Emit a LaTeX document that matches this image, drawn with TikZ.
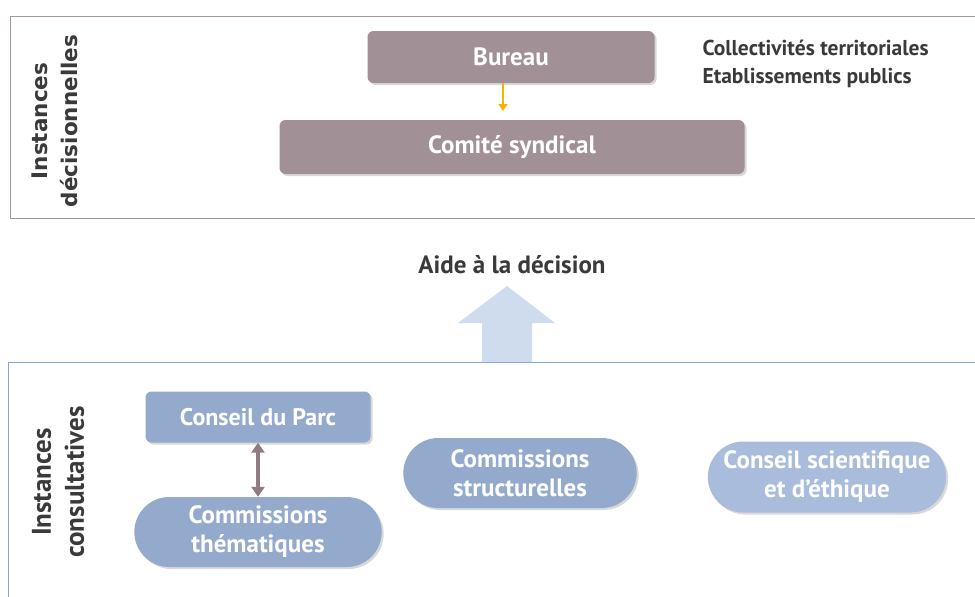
\documentclass[tikz,border=0pt]{standalone}
\usepackage{fontspec}
\setmainfont{PT Sans}
\newfontfamily\widefont{DejaVu Sans}
\usepackage{xcolor}
\usetikzlibrary{positioning,calc,arrows.meta,shapes.misc,shadows}

\definecolor{mauve}{HTML}{A19197}
\definecolor{mauveline}{HTML}{A3969C}
\definecolor{darrow}{HTML}{8E7B84}
\definecolor{bluebox}{HTML}{94AACD}
\definecolor{lightbox}{HTML}{A9BCDC}
\definecolor{blueline}{HTML}{86A5D6}
\definecolor{bigarrow}{HTML}{CFDCEE}
\definecolor{gold}{HTML}{F4B400}
\definecolor{txt}{HTML}{3A3A3A}

\begin{document}
\begin{tikzpicture}[x=1pt,y=-1pt,
                    every node/.style={font=\bfseries},
                    decbox/.style={rectangle,rounded corners=6pt,fill=mauve,text=white,
                                   drop shadow={opacity=0.3,shadow xshift=2pt,shadow yshift=-2pt},
                                   font=\bfseries\fontsize{25}{28}\selectfont},
                    conbox/.style={rectangle,rounded corners=6pt,fill=bluebox,text=white,
                                   drop shadow={opacity=0.3,shadow xshift=2pt,shadow yshift=-2pt},
                                   font=\bfseries\fontsize{24}{28}\selectfont},
                    pill/.style={rounded rectangle,fill=bluebox,text=white,align=center,
                                 drop shadow={opacity=0.3,shadow xshift=2pt,shadow yshift=-2pt},
                                 font=\bfseries\fontsize{25}{29}\selectfont},
                    sidelabel/.style={rotate=90,align=center,text=txt,
                                      font=\bfseries\fontsize{27}{33}\selectfont}]
    \clip (0,0) rectangle (975,597);
    \fill[white] (0,0) rectangle (975,597);

    %Frames
    \draw[mauveline] (10,16) rectangle (990,218);
    \draw[blueline,thick] (8,362) rectangle (990,610);

    %Nodes
    \node[decbox,minimum width=287pt,minimum height=52pt] (bureau) at (511,57) {Bureau};
    \node[decbox,minimum width=465pt,minimum height=54pt] (comite) at (512,147) {Comité syndical};
    \node[anchor=west,align=left,text=txt,font=\bfseries\fontsize{21.5}{28}\selectfont] (membres) at (699,64)
        {Collectivités territoriales\\Etablissements publics};
    \node[sidelabel,font=\widefont\bfseries\fontsize{21.5}{30}\selectfont] (decision) at (55,121)
        {Instances\\décisionnelles};

    \node[text=txt,font=\bfseries\fontsize{25}{28}\selectfont] (aide) at (512,265) {Aide à la décision};
    \coordinate (base) at (507,362);

    \node[conbox,minimum width=225pt,minimum height=51pt] (conseil) at (258,417) {Conseil du Parc};
    \node[pill,minimum width=254pt,minimum height=70pt] (thema) at (258,532) {Commissions\\thématiques};
    \node[pill,minimum width=240pt,minimum height=70pt] (struct) at (520,473) {Commissions\\structurelles};
    \node[pill,fill=lightbox,minimum width=245pt,minimum height=71pt] (scient) at (827,477)
        {Conseil scientifique\\et d’éthique};
    \node[sidelabel] (consult) at (58,482) {Instances\\consultatives};

    %Lines
    \draw[gold,line width=1.6pt,-{Triangle[width=9pt,length=7pt]}] (bureau.south -| 503,0) -- (503,111);
    \draw[darrow,line width=3.5pt,{Triangle[width=13pt,length=10pt]}-{Triangle[width=13pt,length=10pt]}]
        (conseil.south) -- (thema.north);
    \fill[bigarrow] (base) ++(-25,0) -- ++(0,-39) -- ++(-24,0) -- (507,286) -- (555,323)
        -- ++(-23,0) -- ++(0,39) -- cycle;
\end{tikzpicture}
\end{document}
